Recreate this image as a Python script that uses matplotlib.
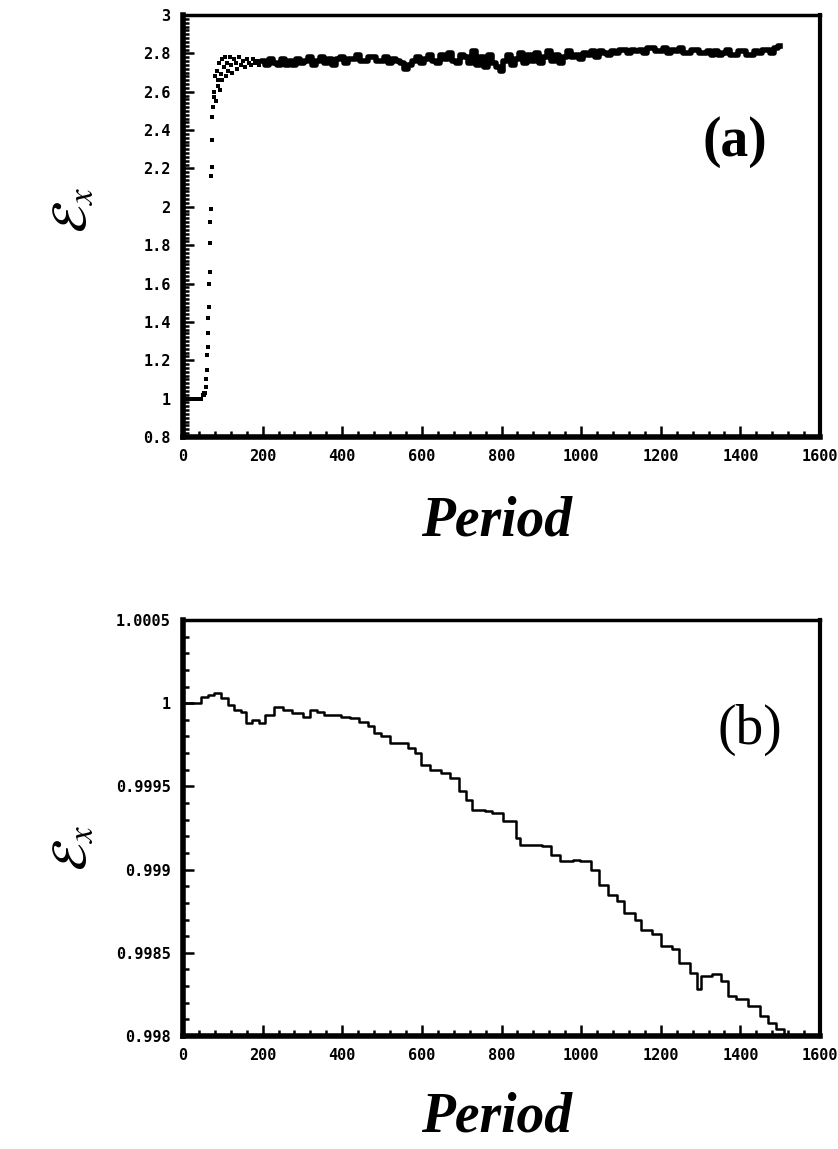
import matplotlib.pyplot as plt
from matplotlib.ticker import MultipleLocator, FormatStrFormatter

plt.rcParams['mathtext.fontset'] = 'stix'

# panel (a): start-up transient, sampled points
trans_period = [0, 5, 10, 15, 20, 25, 30, 35, 40, 45, 50, 52, 54, 56, 58,
                59, 60, 61, 62, 63, 64, 65, 66, 67, 68, 69, 70, 71, 72, 73, 74,
                75, 77, 79, 81, 83, 85, 87, 89, 91, 93, 95, 97, 99, 102, 105,
                108, 111, 114, 117, 120, 124, 128, 132, 136, 140, 145, 150,
                155, 160, 165, 170, 175, 180, 185, 190, 195]
trans_value = [1.0, 1.0, 1.0, 1.0, 1.0, 1.0, 1.0, 1.0, 1.0, 1.0, 1.02, 1.02,
               1.03, 1.03, 1.06,
               1.10, 1.15, 1.23, 1.27, 1.34, 1.42, 1.48, 1.60, 1.66, 1.81,
               1.92, 1.99, 2.16, 2.21, 2.35, 2.47,
               2.52, 2.60, 2.57, 2.68, 2.55, 2.71, 2.63, 2.66, 2.75, 2.61,
               2.69, 2.77, 2.66, 2.73, 2.78, 2.68, 2.75, 2.71, 2.78, 2.74,
               2.70, 2.77, 2.75, 2.72, 2.78, 2.74, 2.76, 2.73, 2.77, 2.75,
               2.74, 2.77, 2.75, 2.76, 2.74, 2.76]

# panel (a): plateau, every 10 periods from 200 to 1500
plateau_period = list(range(200, 1501, 10))
plateau_value = [
    2.76, 2.74, 2.77, 2.75, 2.74, 2.77, 2.74, 2.76, 2.74, 2.77, 2.75,
    2.76, 2.78, 2.74, 2.76, 2.78, 2.75, 2.77, 2.74, 2.77, 2.78, 2.75, 2.77,
    2.77, 2.79, 2.76, 2.76, 2.78, 2.78, 2.76, 2.76, 2.78, 2.75, 2.77, 2.76, 2.75, 2.72,
    2.74, 2.76, 2.78, 2.75, 2.77, 2.79, 2.76, 2.75, 2.79, 2.77, 2.80, 2.76, 2.75, 2.79,
    2.78, 2.75, 2.81, 2.74, 2.78, 2.73, 2.79, 2.75, 2.73, 2.71,
    2.76, 2.79, 2.74, 2.77, 2.80, 2.75, 2.79, 2.76, 2.80, 2.75, 2.78, 2.81,
    2.76, 2.79, 2.75, 2.78, 2.81, 2.78,
    2.79, 2.77, 2.80, 2.79, 2.81, 2.78, 2.81, 2.80, 2.79, 2.81, 2.80, 2.82,
    2.82, 2.80, 2.82, 2.81,
    2.82, 2.80, 2.83, 2.83, 2.81, 2.81, 2.83, 2.80, 2.82, 2.81, 2.83, 2.80,
    2.80, 2.82, 2.82, 2.80, 2.80,
    2.81, 2.79, 2.81, 2.79, 2.80, 2.82, 2.79, 2.79, 2.81, 2.81, 2.79, 2.79,
    2.81, 2.80, 2.82, 2.82, 2.80, 2.83, 2.84]

# panel (b)
period_b = [0, 40, 45, 62, 78, 95, 112, 129, 145, 157, 173, 190, 207, 229,
            252, 274, 302, 319, 336, 353, 375, 397, 420, 442, 464, 481, 498,
            521, 543, 565, 582, 599, 621, 649, 670, 692, 711, 725, 759, 775,
            803, 836, 847, 902, 925, 947, 980, 997, 1024, 1046, 1068, 1090,
            1107, 1135, 1151, 1179, 1201, 1229, 1246, 1273, 1290, 1301, 1329,
            1351, 1368, 1390, 1420, 1450, 1470, 1490, 1510]
value_b = [1.0, 1.0, 1.00004, 1.00005, 1.00006, 1.00003, 0.99999, 0.99996,
           0.99995, 0.99988, 0.9999, 0.99988, 0.99993, 0.99998, 0.99996,
           0.99994, 0.99992, 0.99996, 0.99995, 0.99993, 0.99993, 0.99992,
           0.99991, 0.99989, 0.99986, 0.99982, 0.9998, 0.99976, 0.99976,
           0.99973, 0.9997, 0.99963, 0.9996, 0.99958, 0.99955, 0.99947,
           0.99942, 0.99936, 0.99935, 0.99934, 0.99929, 0.99919, 0.99915,
           0.99914, 0.99909, 0.99905, 0.99906, 0.99905, 0.999, 0.99891,
           0.99885, 0.99881, 0.99874, 0.9987, 0.99864, 0.99861, 0.99854,
           0.99852, 0.99844, 0.99838, 0.99828, 0.99836, 0.99837, 0.99833,
           0.99824, 0.99822, 0.99818, 0.99812, 0.99808, 0.99804, 0.998]

W, H = 838, 1149
fig = plt.figure(figsize=(W / 100, H / 100), dpi=100)
ax_a = fig.add_axes([183 / W, 1 - 437 / H, 637 / W, 422 / H])
ax_b = fig.add_axes([183 / W, 1 - 1036 / H, 637 / W, 416 / H])


def style_axes(ax):
    ax.set_xlim(0, 1600)
    ax.xaxis.set_major_locator(MultipleLocator(200))
    ax.xaxis.set_minor_locator(MultipleLocator(40))
    ax.tick_params(which='both', direction='in', top=False, right=False,
                   width=1.8, color='black')
    ax.tick_params(which='major', length=8, pad=9)
    ax.tick_params(which='minor', length=4)
    for lab in ax.get_xticklabels() + ax.get_yticklabels():
        lab.set_fontfamily('DejaVu Sans Mono')
        lab.set_fontweight('bold')
        lab.set_fontsize(11)
    ax.spines['left'].set_linewidth(4)
    ax.spines['bottom'].set_linewidth(4)
    ax.spines['top'].set_linewidth(2.5)
    ax.spines['right'].set_linewidth(3)


# (a)
ax_a.plot(trans_period, trans_value, 's', color='black', ms=2.4, mew=0)
ax_a.plot(plateau_period, plateau_value, color='black', lw=4,
          drawstyle='steps-mid')
ax_a.set_ylim(0.8, 3.0)
ax_a.yaxis.set_major_locator(MultipleLocator(0.2))
ax_a.yaxis.set_minor_locator(MultipleLocator(0.02))
ax_a.yaxis.set_major_formatter(FormatStrFormatter('%g'))
style_axes(ax_a)
ax_a.text(0.867, 0.70, '(a)', transform=ax_a.transAxes, ha='center',
          va='center', fontsize=40, fontweight='bold',
          fontfamily='Liberation Serif')

# (b)
ax_b.plot(period_b, value_b, color='black', lw=1.8, drawstyle='steps-post')
ax_b.set_ylim(0.998, 1.0005)
ax_b.yaxis.set_major_locator(MultipleLocator(0.0005))
ax_b.yaxis.set_minor_locator(MultipleLocator(0.0001))
ax_b.yaxis.set_major_formatter(FormatStrFormatter('%g'))
style_axes(ax_b)
ax_b.text(0.89, 0.735, '(b)', transform=ax_b.transAxes, ha='center',
          va='center', fontsize=40, fontfamily='Liberation Serif')

# axis titles
for yc in (522, 1118):
    fig.text(497 / W, 1 - yc / H, 'Period', ha='center', va='center',
             fontsize=40, fontweight='bold', fontstyle='italic',
             fontfamily='Liberation Serif')
for yc in (210, 848):
    fig.text(72 / W, 1 - yc / H, r'$\mathcal{E}_x$', ha='center',
             va='center', rotation=90, fontsize=36)

fig.savefig('out.png', dpi=100)
